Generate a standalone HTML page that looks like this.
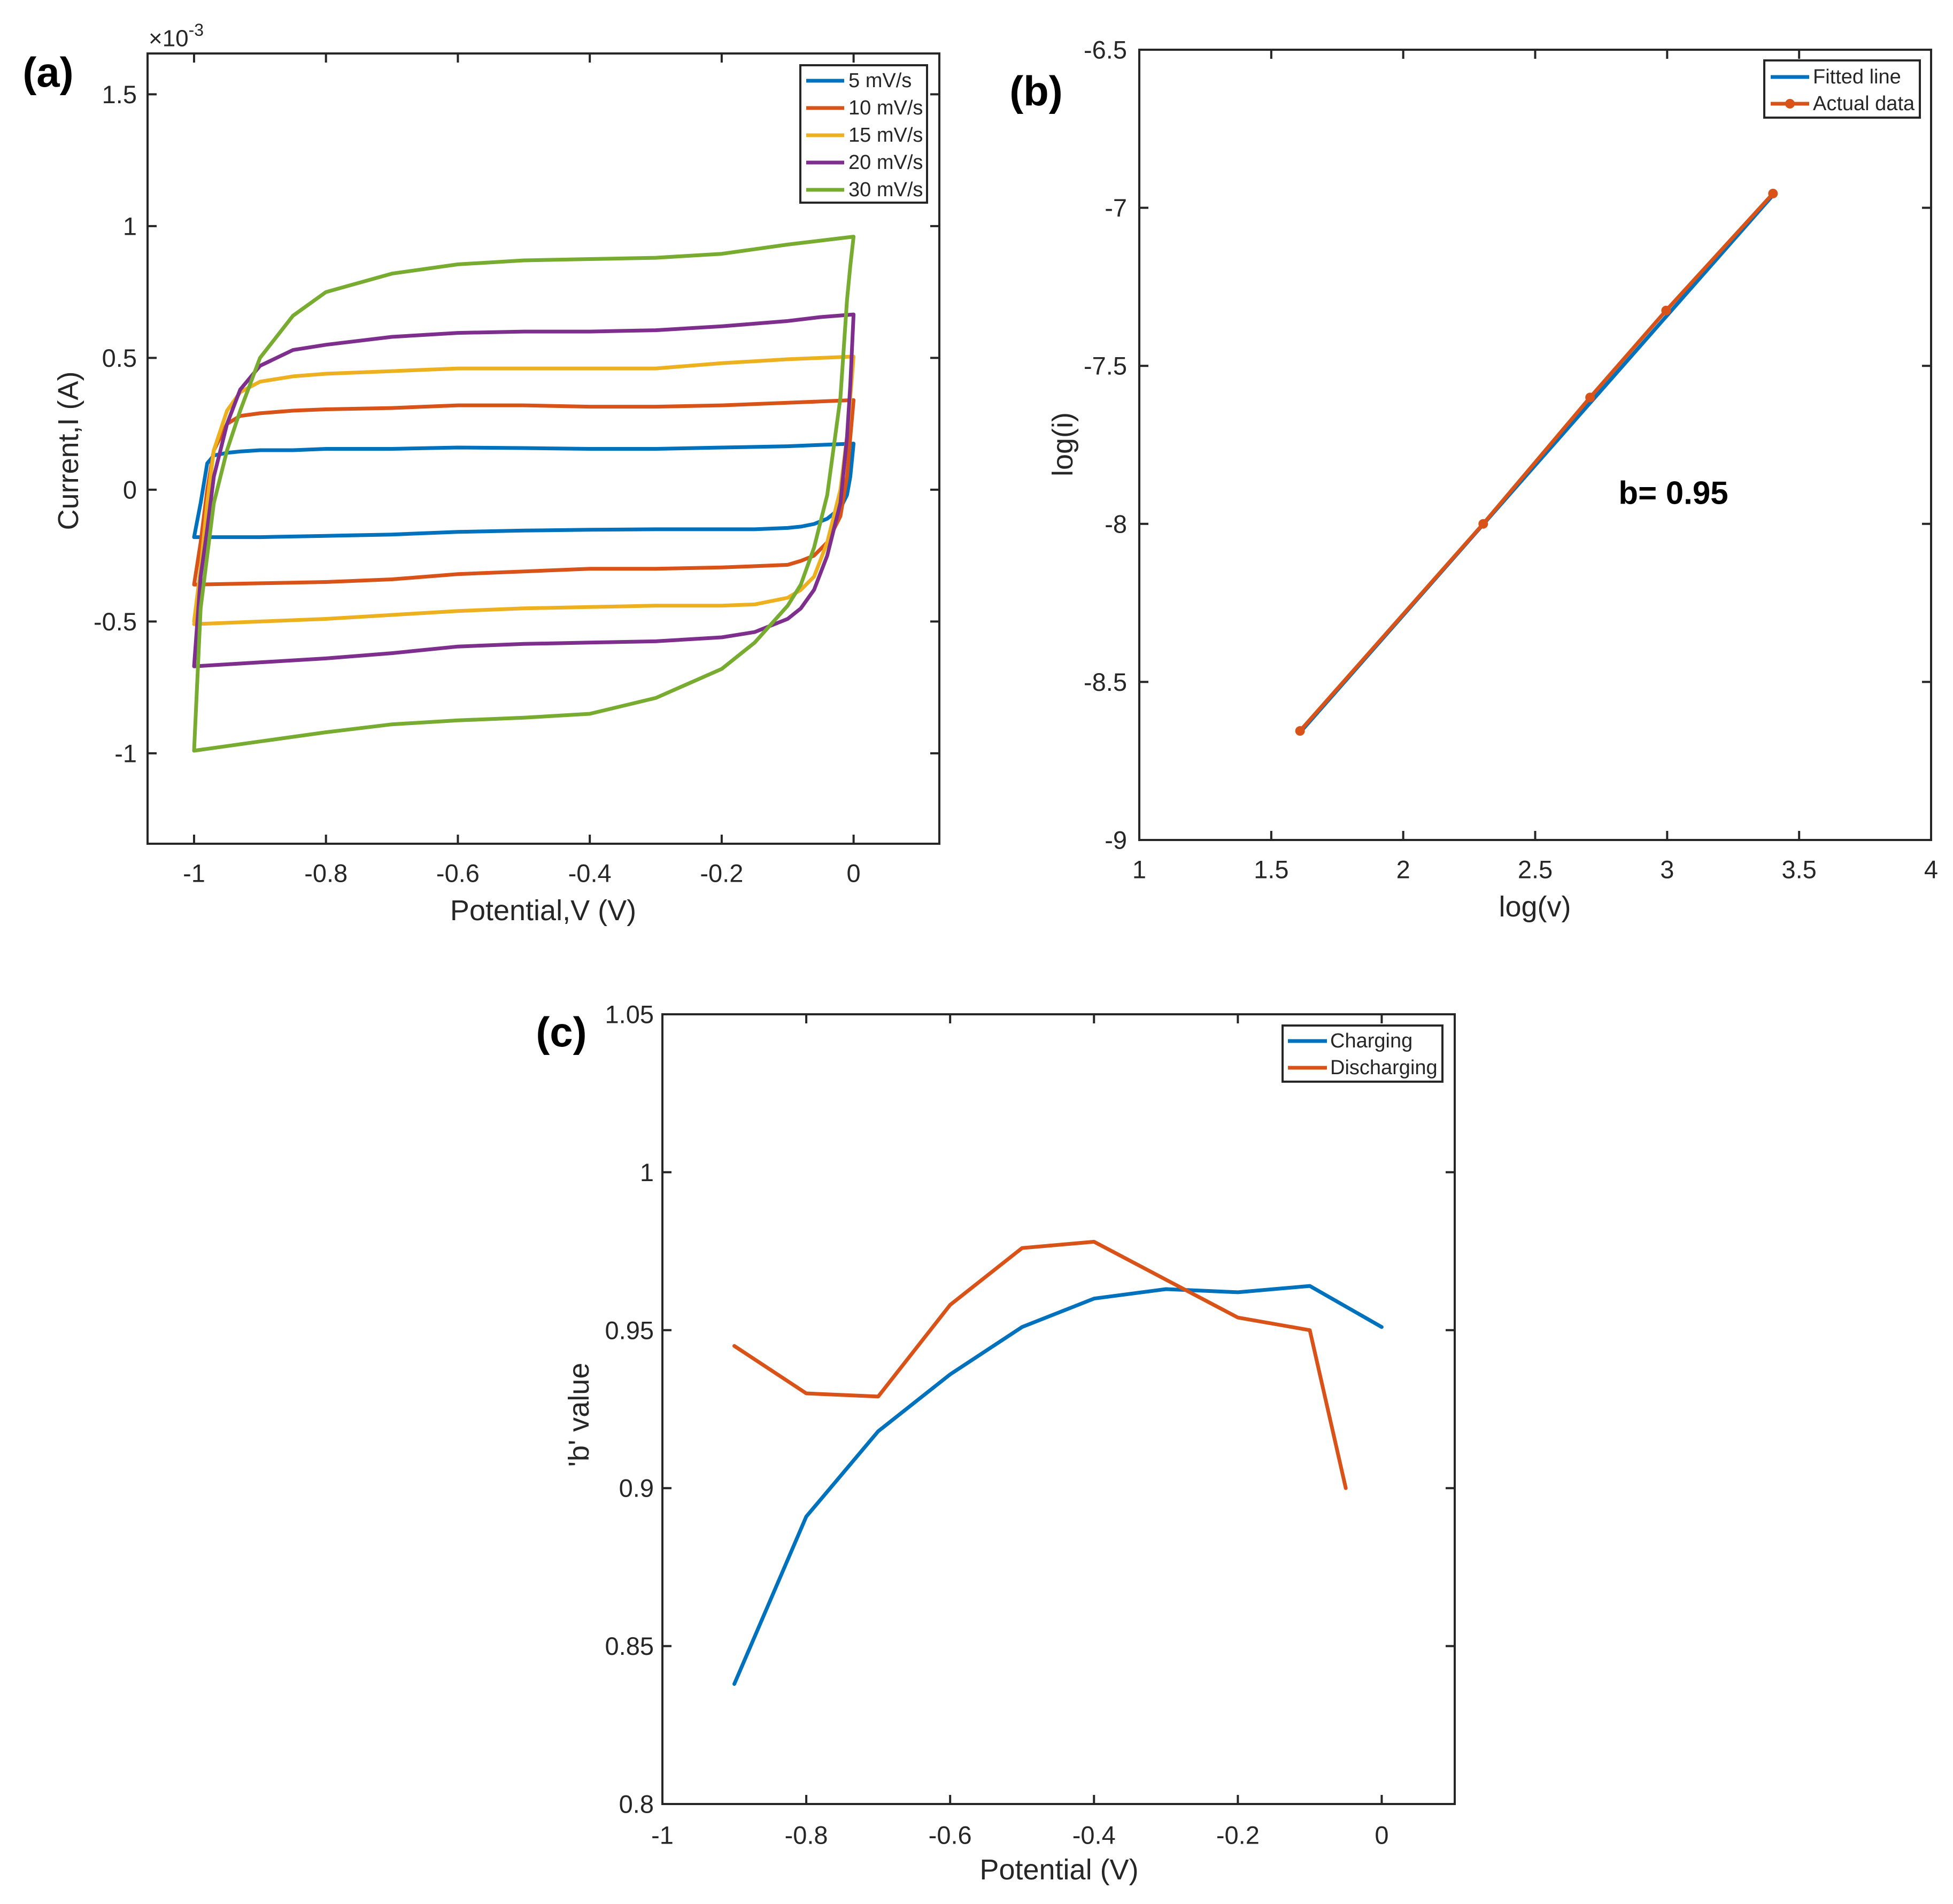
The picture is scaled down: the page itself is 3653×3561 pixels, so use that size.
<!DOCTYPE html>
<html><head><meta charset="utf-8"><style>
html,body{margin:0;padding:0;background:#fff}
svg{display:block;font-family:"Liberation Sans",sans-serif}
</style></head><body>
<svg id="fig" width="3653" height="3561" viewBox="0 0 3653 3561" xmlns="http://www.w3.org/2000/svg">
<rect width="3653" height="3561" fill="#fff"/>
</svg>
<script>
const NS='http://www.w3.org/2000/svg';
const fig=document.getElementById('fig');
// ---- Panel (a) data ----
const aUpperV=[-1,-0.99,-0.98,-0.97,-0.95,-0.93,-0.9,-0.85,-0.8,-0.7,-0.6,-0.5,-0.4,-0.3,-0.2,-0.1,-0.05,0];
const aLowerV=[0,-0.005,-0.01,-0.02,-0.04,-0.06,-0.08,-0.1,-0.15,-0.2,-0.3,-0.4,-0.5,-0.6,-0.7,-0.8,-0.9,-1];
const aSeriesNames=['5 mV/s','10 mV/s','15 mV/s','20 mV/s','30 mV/s'];
const aUp5=[-0.18,-0.05,0.10,0.13,0.14,0.145,0.15,0.15,0.155,0.155,0.16,0.158,0.155,0.155,0.16,0.165,0.17,0.175];
const aLo5=[0.175,0.05,-0.02,-0.07,-0.11,-0.13,-0.14,-0.145,-0.15,-0.15,-0.15,-0.152,-0.155,-0.16,-0.17,-0.175,-0.18,-0.18];
const aUp10=[-0.36,-0.2,0.0,0.15,0.25,0.28,0.29,0.30,0.305,0.31,0.32,0.32,0.315,0.315,0.32,0.33,0.335,0.34];
const aLo10=[0.34,0.2,0.05,-0.1,-0.2,-0.25,-0.27,-0.285,-0.29,-0.295,-0.30,-0.30,-0.31,-0.32,-0.34,-0.35,-0.355,-0.36];
const aUp15=[-0.5,-0.3,-0.05,0.15,0.3,0.37,0.41,0.43,0.44,0.45,0.46,0.46,0.46,0.46,0.48,0.495,0.50,0.505];
const aLo15=[0.505,0.35,0.2,0.0,-0.2,-0.33,-0.38,-0.41,-0.435,-0.44,-0.44,-0.445,-0.45,-0.46,-0.475,-0.49,-0.5,-0.51];
const aUp20=[-0.67,-0.33,-0.15,0.05,0.25,0.38,0.47,0.53,0.55,0.58,0.595,0.60,0.60,0.605,0.62,0.64,0.655,0.665];
const aLo20=[0.665,0.4,0.2,-0.05,-0.25,-0.38,-0.45,-0.49,-0.54,-0.56,-0.575,-0.58,-0.585,-0.595,-0.62,-0.64,-0.655,-0.67];
const aUp30=[-0.99,-0.45,-0.25,-0.05,0.15,0.3,0.5,0.66,0.75,0.82,0.855,0.87,0.875,0.88,0.895,0.93,0.945,0.96];
const aLo30=[0.96,0.85,0.72,0.35,-0.02,-0.22,-0.36,-0.44,-0.58,-0.68,-0.79,-0.85,-0.865,-0.875,-0.89,-0.92,-0.955,-0.99];
const aXTicks=[-1,-0.8,-0.6,-0.4,-0.2,0];
const aXTickLabels=['-1','-0.8','-0.6','-0.4','-0.2','0'];
const aYTicks=[-1,-0.5,0,0.5,1,1.5];
const aYTickLabels=['-1','-0.5','0','0.5','1','1.5'];
// ---- Panel (b) data ----
const bLogV=[1.609,2.303,2.708,2.996,3.401];
const bLogI=[-8.655,-8.0,-7.6,-7.325,-6.955];
const bFitX=[1.609,3.401];
const bFitY=[-8.66,-6.96];
const bXTicks=[1,1.5,2,2.5,3,3.5,4];
const bXTickLabels=['1','1.5','2','2.5','3','3.5','4'];
const bYTicks=[-9,-8.5,-8,-7.5,-7,-6.5];
const bYTickLabels=['-9','-8.5','-8','-7.5','-7','-6.5'];
// ---- Panel (c) data ----
const cChargeX=[-0.9,-0.8,-0.7,-0.6,-0.5,-0.4,-0.3,-0.2,-0.1,0];
const cChargeY=[0.838,0.891,0.918,0.936,0.951,0.960,0.963,0.962,0.964,0.951];
const cDischX=[-0.9,-0.8,-0.7,-0.6,-0.5,-0.4,-0.3,-0.2,-0.1,-0.05];
const cDischY=[0.945,0.930,0.929,0.958,0.976,0.978,0.966,0.954,0.950,0.900];
const cXTicks=[-1,-0.8,-0.6,-0.4,-0.2,0];
const cXTickLabels=['-1','-0.8','-0.6','-0.4','-0.2','0'];
const cYTicks=[0.8,0.85,0.9,0.95,1,1.05];
const cYTickLabels=['0.8','0.85','0.9','0.95','1','1.05'];

const C=['#0072BD','#D95319','#EDB120','#7E2F8E','#77AC30'];
function el(tag,attrs,parent){const e=document.createElementNS(NS,tag);for(const k in attrs)e.setAttribute(k,attrs[k]);(parent||fig).appendChild(e);return e;}
function txt(s,attrs,parent){const t=el('text',attrs,parent);t.textContent=s;return t;}
function mkAxes(name,L,R,T,B,x0,x1,y0,y1){
  const g=el('g',{});
  
  
  const sx=v=>L+(v-x0)/(x1-x0)*(R-L);
  const sy=v=>B-(v-y0)/(y1-y0)*(B-T);
  return {g,sx,sy,L,R,T,B};
}
function frame(ax,xt,xl,yt,yl,xlabY,ylabX){
  const {g,sx,sy,L,R,T,B}=ax;
  const tl=17;
  xt.forEach((v,i)=>{const x=sx(v);
    el('line',{x1:x,y1:B,x2:x,y2:B-tl,stroke:'#262626','stroke-width':4},g);
    el('line',{x1:x,y1:T,x2:x,y2:T+tl,stroke:'#262626','stroke-width':4},g);
    const t=txt(xl[i],{x:x,y:xlabY,'font-size':47,fill:'#262626','text-anchor':'middle','dominant-baseline':'central'},g);
    
    
  });
  yt.forEach((v,i)=>{const y=sy(v);
    el('line',{x1:L,y1:y,x2:L+tl,y2:y,stroke:'#262626','stroke-width':4},g);
    el('line',{x1:R,y1:y,x2:R-tl,y2:y,stroke:'#262626','stroke-width':4},g);
    const t=txt(yl[i],{x:ylabX,y:y,'font-size':47,fill:'#262626','text-anchor':'end','dominant-baseline':'central'},g);
    
    
  });
  el('rect',{x:L,y:T,width:R-L,height:B-T,fill:'none',stroke:'#262626','stroke-width':4},g);
}
function poly(ax,xs,ys,color,name,w){
  const pts=xs.map((v,i)=>ax.sx(v).toFixed(1)+','+ax.sy(ys[i]).toFixed(1)).join(' ');
  const p=el('polyline',{points:pts,fill:'none',stroke:color,'stroke-width':w||7,'stroke-linejoin':'round','stroke-linecap':'round'},ax.g);
  
  
  return p;
}
function label(s,x,y,size,weight,rot,name){
  const a={x:x,y:y,'font-size':size,fill:weight==='bold'?'#000':'#262626','text-anchor':'middle','dominant-baseline':'central','font-weight':weight||'normal'};
  if(rot)a.transform='rotate(-90 '+x+' '+y+')';
  const t=txt(s,a);
  
  
}
function legend(x,y,w,h,items,lx1,lx2,tx,name){
  const g=el('g',{});
  
  
  el('rect',{x:x,y:y,width:w,height:h,fill:'#fff',stroke:'#262626','stroke-width':4},g);
  items.forEach(it=>{
    const ent=el('g',{},g);
    
    
    el('line',{x1:lx1,y1:it.y,x2:lx2,y2:it.y,stroke:it.c,'stroke-width':7},ent);
    if(it.m)el('circle',{cx:(lx1+lx2)/2,cy:it.y,r:9,fill:it.c},ent);
    txt(it.t,{x:tx,y:it.y,'font-size':38,fill:'#262626','dominant-baseline':'central'},ent);
  });
}

// Panel a
const A=mkAxes('panel-a-axes',276,1757,100,1578,-1.0705,0.13,-1.343,1.655);
const aUps=[aUp5,aUp10,aUp15,aUp20,aUp30], aLos=[aLo5,aLo10,aLo15,aLo20,aLo30];
aUps.forEach((u,i)=>{poly(A,aUpperV.concat(aLowerV),u.concat(aLos[i]),C[i],'cv-curve-'+aSeriesNames[i].split(' ')[0]+'mvs');});
frame(A,aXTicks,aXTickLabels,aYTicks,aYTickLabels,1633,256);
legend(1497,122,237,257,aSeriesNames.map((t,i)=>({t:t,c:C[i],y:151+i*51})),1508,1579,1587,'legend-a');
label('Potential,V (V)',1016,1703,54,'normal',false,'x-axis-title-a');
label('Current,I (A)',128,843,54,'normal',true,'y-axis-title-a');
(function(){const t=txt('',{x:278,y:72,'font-size':44,fill:'#262626','dominant-baseline':'central'});

t.innerHTML='×10<tspan dy="-16" font-size="32">-3</tspan>';})();
label('(a)',90,135,78,'bold',false,'panel-label-a');

// Panel b
const Bx=mkAxes('panel-b-axes',2131,3612,93,1571,1,4,-9,-6.5);
poly(Bx,bFitX,bFitY,C[0],'fitted-line');
poly(Bx,bLogV,bLogI,C[1],'actual-data-line');
bLogV.forEach((v,i)=>{const c=el('circle',{cx:Bx.sx(v),cy:Bx.sy(bLogI[i]),r:9,fill:C[1]},Bx.g);
});
frame(Bx,bXTicks,bXTickLabels,bYTicks,bYTickLabels,1626,2108);
legend(3300,113,291,107,[{t:'Fitted line',c:C[0],y:144},{t:'Actual data',c:C[1],y:194,m:true}],3312,3384,3391,'legend-b');
label('log(v)',2871,1696,54,'normal',false,'x-axis-title-b');
label('log(i)',1988,831,54,'normal',true,'y-axis-title-b');
label('b= 0.95',3130,922,60,'bold',false,'b-value-annotation');
label('(b)',1938,170,78,'bold',false,'panel-label-b');

// Panel c
const Cx=mkAxes('panel-c-axes',1239,2721,1897,3374,-1,0.1015,0.8,1.05);
poly(Cx,cChargeX,cChargeY,C[0],'charging-line');
poly(Cx,cDischX,cDischY,C[1],'discharging-line');
frame(Cx,cXTicks,cXTickLabels,cYTicks,cYTickLabels,3432,1223);
legend(2399,1918,299,105,[{t:'Charging',c:C[0],y:1947},{t:'Discharging',c:C[1],y:1997}],2409,2482,2488,'legend-c');
label('Potential (V)',1981,3497,54,'normal',false,'x-axis-title-c');
label("'b' value",1083,2646,54,'normal',true,'y-axis-title-c');
label('(c)',1050,1930,78,'bold',false,'panel-label-c');
</script>
</body></html>
